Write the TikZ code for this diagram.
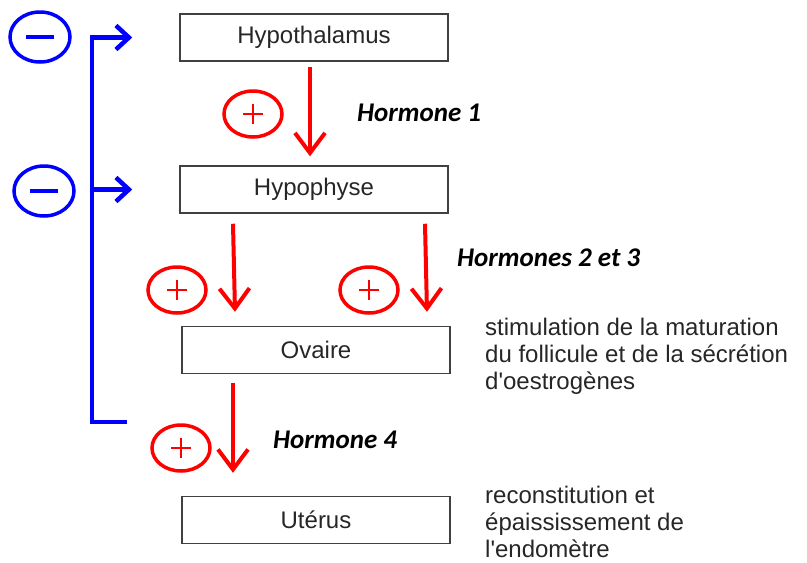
\documentclass[tikz,border=0pt]{standalone}
\usepackage{fontspec}
\setmainfont{Liberation Sans}
\newfontfamily\hormfont{Carlito}
\usetikzlibrary{arrows.meta,shapes.geometric}
\begin{document}
\begin{tikzpicture}[x=1pt, y=-1pt,
        organ/.style={draw=black!75, line width=1.5pt, minimum width=268pt, minimum height=47pt,
            inner sep=0pt, text=black!85, font=\fontsize{24}{26}\selectfont},
        plusmark/.style={ellipse, draw=red, line width=3.5pt, minimum width=58pt, minimum height=46pt,
            path picture={\draw[red, line width=2.2pt]
                (path picture bounding box.center) +(-10,0) -- +(10,0) +(0,-10) -- +(0,10);}},
        minusmark/.style={ellipse, draw=blue, line width=3.5pt, minimum width=60pt, minimum height=50pt,
            path picture={\draw[blue, line width=3.5pt]
                (path picture bounding box.center) +(-14,0) -- +(14,0);}},
        stim/.style={red, line width=4pt, -{Straight Barb[length=20pt, width=30pt]}},
        retro/.style={blue, line width=4.5pt},
        hormone/.style={anchor=west, inner sep=0pt, font=\hormfont\bfseries\itshape\fontsize{27}{30}\selectfont},
        effect/.style={anchor=north west, inner sep=0pt, align=left, text=black!85,
            font=\fontsize{24}{27}\selectfont}]
    \useasboundingbox (0,0) rectangle (807,563);

    % organs
    \node[organ] (hyp) at (314,37.5) {Hypothalamus};
    \node[organ] (hypo) at (314,189.5) {Hypophyse};
    \node[organ] (ova) at (316,350) {Ovaire};
    \node[organ] (ute) at (316,520) {Utérus};

    % stimulations
    \draw[stim] ([shift={(-4,5)}]hyp.south) -- ([shift={(-4,-9)}]hypo.north);
    \draw[stim] ([shift={(-81,10)}]hypo.south) -- ([shift={(-81,-14)}]ova.north);
    \draw[stim] ([shift={(111,10)}]hypo.south) -- ([shift={(111,-14)}]ova.north);
    \draw[stim] ([shift={(-83,9)}]ova.south) -- ([shift={(-83,-23)}]ute.north);

    \node[plusmark] (p1) at (253,114) {};
    \node[plusmark] (p2) at (177,290) {};
    \node[plusmark] (p3) at (369,290) {};
    \node[plusmark] (p4) at (181,448) {};

    \node[hormone] (h1) at (357,113) {Hormone 1};
    \node[hormone] (h23) at (457,258) {Hormones 2 et 3};
    \node[hormone] (h4) at (273,440) {Hormone 4};

    % retrocontrole
    \coordinate (fb) at (127,422);
    \coordinate (corner) at (92,422);
    \coordinate (t1) at ([xshift=-47]hyp.west);
    \coordinate (t2) at ([xshift=-47]hypo.west);
    \draw[retro, -{Straight Barb[length=13pt, width=24pt]}] (fb) -- (corner) |- (t1);
    \draw[retro, -{Straight Barb[length=13pt, width=24pt]}] (corner |- t2) -- (t2);
    \node[minusmark] (m1) at (40,37) {};
    \node[minusmark] (m2) at (44,191) {};

    % effets
    \node[effect] (e1) at (485,318) {stimulation de la maturation\\du follicule et de la sécrétion\\d\textquotesingle oestrogènes};
    \node[effect] (e2) at (485,486) {reconstitution et\\épaississement de\\l\textquotesingle endomètre};
\end{tikzpicture}
\end{document}
